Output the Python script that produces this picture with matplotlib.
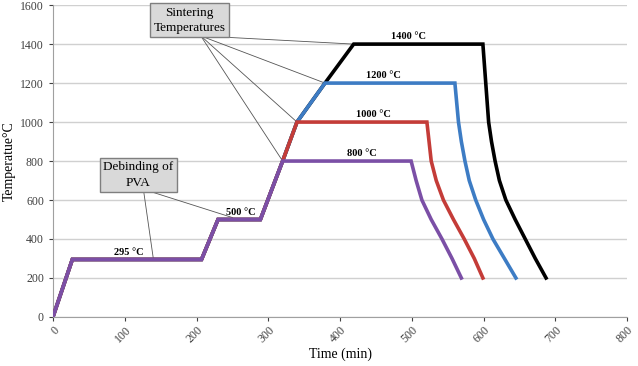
import matplotlib
matplotlib.use("Agg")
import matplotlib.pyplot as plt

plt.rcParams["font.family"] = ["Liberation Serif", "DejaVu Serif"]

# firing profiles: time (min) vs temperature (°C), one per sintering temperature
t_800 = [0, 27, 207, 230, 289, 320, 499, 506, 514, 527, 542, 556, 569]
T_800 = [0, 295, 295, 500, 500, 800, 800, 700, 600, 500, 400, 300, 200]

t_1000 = [0, 27, 207, 230, 289, 320, 340, 521, 527, 534, 544, 558, 573, 587, 599]
T_1000 = [0, 295, 295, 500, 500, 800, 1000, 1000, 800, 700, 600, 500, 400, 300, 200]

t_1200 = [0, 27, 207, 230, 289, 320, 340, 379, 560, 565, 569, 574, 580, 589, 600,
          613, 629, 645]
T_1200 = [0, 295, 295, 500, 500, 800, 1000, 1200, 1200, 1000, 900, 800, 700, 600, 500,
          400, 300, 200]

t_1400 = [0, 27, 207, 230, 289, 320, 340, 379, 419, 599, 603, 607, 611, 616, 622, 631,
          644, 658, 672, 687]
T_1400 = [0, 295, 295, 500, 500, 800, 1000, 1200, 1400, 1400, 1200, 1000, 900, 800, 700,
          600, 500, 400, 300, 200]

# plateau labels
label_text = ["295 °C", "500 °C", "800 °C", "1000 °C", "1200 °C", "1400 °C"]
label_x = [106, 262, 430, 446, 460, 496]
label_T = [295, 500, 800, 1000, 1200, 1400]

fig = plt.figure(figsize=(6.38, 3.66), dpi=100)
ax = fig.add_axes([0.083, 0.134, 0.900, 0.852])

ax.yaxis.grid(True, color="#d0d0d0", lw=1.0)
ax.set_axisbelow(True)

lw = 2.6
ax.plot(t_1400, T_1400, color="black", lw=lw, solid_joinstyle="miter", zorder=3)
ax.plot(t_1200, T_1200, color="#3d7cc4", lw=lw, solid_joinstyle="miter", zorder=4)
ax.plot(t_1000, T_1000, color="#c43c38", lw=lw, solid_joinstyle="miter", zorder=5)
ax.plot(t_800, T_800, color="#7b4fa6", lw=lw, solid_joinstyle="miter", zorder=6)

for txt, x, T in zip(label_text, label_x, label_T):
    ax.annotate(txt, (x, T), xytext=(0, 2), textcoords="offset points",
                ha="center", va="bottom", fontsize=7.5, fontweight="bold", zorder=7)

# callout boxes
box = dict(boxstyle="square,pad=0.25", fc="#d9d9d9", ec="#7f7f7f", lw=1.0)
ax.text(190, 1522, "Sintering\nTemperatures", ha="center", va="center",
        fontsize=9.5, linespacing=1.4, bbox=box, zorder=8)
ax.text(119, 728, "Debinding of\nPVA", ha="center", va="center",
        fontsize=9.5, linespacing=1.4, bbox=box, zorder=8)

# leader lines from sintering box to the start of each plateau
sinter_ends = [(t_800[5], T_800[5]), (t_1000[6], T_1000[6]),
               (t_1200[7], T_1200[7]), (t_1400[8], T_1400[8])]
for x, y in sinter_ends:
    ax.plot([206, x], [1442, y], color="#555555", lw=0.6, zorder=2)

# leader lines from debinding box
for x, y in [(140, T_800[1]), (250, 510)]:
    ax.plot([126, x], [655, y], color="#555555", lw=0.6, zorder=2)

ax.set_xlim(0, 800)
ax.set_ylim(0, 1600)
ax.set_xticks(range(0, 801, 100))
ax.set_yticks(range(0, 1601, 200))
for lbl in ax.get_xticklabels():
    lbl.set_rotation(45)
    lbl.set_ha("right")
    lbl.set_va("top")
    lbl.set_rotation_mode("anchor")
ax.tick_params(axis="both", labelsize=8.5, colors="#404040", length=3, width=0.8)
ax.tick_params(axis="x", pad=2)

for side in ["top", "right"]:
    ax.spines[side].set_visible(False)
for side in ["left", "bottom"]:
    ax.spines[side].set_color("#a0a0a0")

ax.set_xlabel("Time (min)", fontsize=10, labelpad=2)
ax.set_ylabel("Temperatue°C", fontsize=10, labelpad=3)

fig.savefig("out.png", dpi=100)
